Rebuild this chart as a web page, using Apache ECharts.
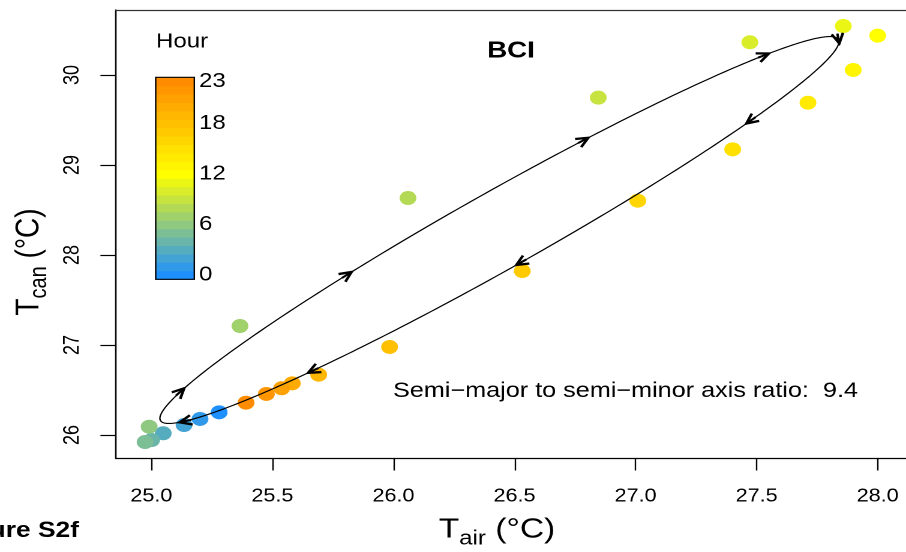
<!DOCTYPE html>
<html><head><meta charset="utf-8">
<script src="https://cdn.jsdelivr.net/npm/echarts@6/dist/echarts.min.js"></script>
<style>
html,body{margin:0;padding:0;overflow:hidden;background:#fff;width:906px;height:552px}
#c{width:755px;height:552px;transform:scaleX(1.2);transform-origin:0 0;}
</style>
</head><body><div id="c"></div>
<script>
// ---------- data ----------
const hours = [0,1,2,3,4,5,6,7,8,9,10,11,12,13,14,15,16,17,18,19,20,21,22,23];
const tair  = [25.280,25.201,25.135,25.049,25.001,24.974,24.991,25.366,26.060,26.846,27.472,27.858,
               28.000,27.899,27.712,27.401,27.009,26.532,25.984,25.691,25.582,25.538,25.475,25.391];
const tcan  = [26.252,26.178,26.111,26.019,25.944,25.922,26.092,27.211,28.633,29.748,30.363,30.544,
               30.437,30.056,29.692,29.174,28.603,27.822,26.978,26.670,26.574,26.519,26.456,26.359];
const xTicks = [25.0,25.5,26.0,26.5,27.0,27.5,28.0];
const yTicks = [26,27,28,29,30];
const colorbarTicks = [0,6,12,18,23];
const colorStops = [[0,[30,144,255]],[12,[255,255,0]],[23,[255,140,0]]];
// fitted hysteresis ellipse (data units)
const ellipseCenter = [26.4375, 28.2775];
const ellipseSemiMajor = 2.552;
const axisRatio = 9.4;
const ellipseAngleDeg = 57.17;
const arrowParamDeg = [150,107,66,29,-7.5,-52,-96,-133,-168];
const titleText = 'BCI';
const noteText = 'Semi\u2212major to semi\u2212minor axis ratio:  9.4';
const figLabel = 'Figure S2f';

// ---------- helpers ----------
const S = 1.2;                 // horizontal stretch of the reference picture
const X = px => px / S;        // picture x -> chart logical x
const FONT = 'Liberation Sans';

function hourColor(h){
  for (let k=0;k<colorStops.length-1;k++){
    const [h0,c0]=colorStops[k],[h1,c1]=colorStops[k+1];
    if (h>=h0 && h<=h1){
      const f=(h-h0)/(h1-h0);
      const c=c0.map((v,j)=>Math.round(v+(c1[j]-v)*f));
      return 'rgb('+c.join(',')+')';
    }
  }
  return 'rgb(255,140,0)';
}
const hourColors = hours.map(hourColor);

function ellipsePoint(tDeg){
  const t=tDeg*Math.PI/180, th=ellipseAngleDeg*Math.PI/180;
  const a=ellipseSemiMajor, b=a/axisRatio;
  const ca=a*Math.cos(t), sb=b*Math.sin(t);
  return [ellipseCenter[0]+ca*Math.cos(th)-sb*Math.sin(th),
          ellipseCenter[1]+ca*Math.sin(th)+sb*Math.cos(th)];
}

const ctx = document.createElement('canvas').getContext('2d');
function tw(txt,size,weight){ ctx.font=(weight||'normal')+' '+size+'px "'+FONT+'"'; return ctx.measureText(txt).width; }

function subTitle(main, sub, rest, cx, cy, rot){
  const big=28, small=20;
  const w1=tw(main,big), w2=tw(sub,small), w3=tw(rest,big);
  const x0=-(w1+w2+w3)/2;
  const st=(t,s)=>({text:t,fontSize:s,fontFamily:FONT,fill:'#000',align:'left',verticalAlign:'middle'});
  return {type:'group', x:cx, y:cy, rotation:rot||0, children:[
    {type:'text', x:x0, y:0, style:st(main,big)},
    {type:'text', x:x0+w1, y:9, style:st(sub,small)},
    {type:'text', x:x0+w1+w2, y:0, style:st(rest,big)}
  ]};
}

// colorbar legend
const cbLeft=X(155.7), cbRight=X(194.3), cbTop=77.3, cbBottom=279.3;
const bandH=(cbBottom-cbTop)/hours.length;
const graphics=[];
hours.forEach((h,i)=>{
  graphics.push({type:'rect', shape:{x:cbLeft, y:cbBottom-(i+1)*bandH, width:cbRight-cbLeft, height:bandH+0.4},
    style:{fill:hourColors[i]}, silent:true});
});
graphics.push({type:'rect', shape:{x:cbLeft,y:cbTop,width:cbRight-cbLeft,height:cbBottom-cbTop},
  style:{fill:null,stroke:'#000',lineWidth:1.2}});
colorbarTicks.forEach(v=>{
  graphics.push({type:'text', x:X(199), y:cbBottom-(v+0.5)*bandH,
    style:{text:String(v),fontSize:20,fontFamily:FONT,fill:'#000',align:'left',verticalAlign:'middle'}});
});
graphics.push({type:'text', x:X(156), y:42, style:{text:'Hour',fontSize:20,fontFamily:FONT,fill:'#000',align:'left',verticalAlign:'middle'}});
graphics.push({type:'text', x:X(511), y:51, style:{text:titleText,fontSize:23,fontWeight:'bold',fontFamily:FONT,fill:'#000',align:'center',verticalAlign:'middle'}});
graphics.push({type:'text', x:X(393), y:391, style:{text:noteText,fontSize:21,fontFamily:FONT,fill:'#000',align:'left',verticalAlign:'middle'}});
graphics.push({type:'text', x:X(79), y:531, style:{text:figLabel,fontSize:22,fontWeight:'bold',fontFamily:FONT,fill:'#000',align:'right',verticalAlign:'middle'}});
graphics.push(subTitle('T','air',' (\u00b0C)', X(497), 530, 0));
graphics.push(subTitle('T','can',' (\u00b0C)', X(29), 262, Math.PI/2));

const xMin=24.854, xMax=28.117, yMin=25.739, yMax=30.722;
const axisLine={show:true,lineStyle:{color:'#000',width:1.3}};
const lbl={color:'#000',fontSize:18,fontFamily:FONT};

const chart=echarts.init(document.getElementById('c'),null,{renderer:'canvas',devicePixelRatio:2});
chart.setOption({
  animation:false,
  backgroundColor:'#fff',
  textStyle:{fontFamily:FONT,color:'#000'},
  grid:{left:X(116),right:0,top:10,bottom:93.5,containLabel:false,outerBoundsMode:'none',show:false},
  xAxis:[{
    type:'value',min:xMin,max:xMax,position:'bottom',
    axisLine:axisLine,
    axisTick:{show:true,length:12,lineStyle:{color:'#000',width:1.2},customValues:xTicks},
    axisLabel:Object.assign({margin:29,customValues:xTicks,formatter:v=>Number(v).toFixed(1)},lbl),
    splitLine:{show:false}
  },{
    type:'value',min:xMin,max:xMax,position:'top',
    axisLine:{show:true,lineStyle:{color:'#333',width:1.2}},
    axisTick:{show:false},axisLabel:{show:false},splitLine:{show:false}
  }],
  yAxis:{
    type:'value',min:yMin,max:yMax,position:'left',
    axisLine:axisLine,
    axisTick:{show:true,length:13,lineStyle:{color:'#000',width:1.2},customValues:yTicks},
    axisLabel:Object.assign({margin:27,rotate:90,customValues:yTicks,formatter:v=>String(Math.round(v))},lbl),
    splitLine:{show:false}
  },
  visualMap:{type:'continuous',show:false,dimension:2,min:0,max:23,seriesIndex:0,inRange:{color:hourColors}},
  series:[{
    type:'scatter',
    data:hours.map((h,i)=>[tair[i],tcan[i],h]),
    symbol:'circle',symbolSize:14,
    itemStyle:{opacity:1},
    z:2
  },{
    type:'custom',
    data:[ellipseCenter],
    z:3,
    renderItem:(params,api)=>{
      const pts=[];
      for(let d=0;d<=360;d+=1) pts.push(api.coord(ellipsePoint(d)));
      const children=[{type:'polyline',shape:{points:pts},style:{stroke:'#000',lineWidth:1.15,fill:null}}];
      arrowParamDeg.forEach(td=>{
        const p=api.coord(ellipsePoint(td));
        const q=api.coord(ellipsePoint(td-1));
        let dx=q[0]-p[0],dy=q[1]-p[1];const len=Math.hypot(dx,dy)||1;dx/=len;dy/=len;
        const tip=[p[0]+dx*3,p[1]+dy*3];
        const L=11,ang=Math.PI/7;
        const side=s=>{const c=Math.cos(s*ang),sn=Math.sin(s*ang);
          return [tip[0]-L*(dx*c-dy*sn), tip[1]-L*(dx*sn+dy*c)];};
        children.push({type:'polyline',shape:{points:[tip,[tip[0]-dx*L*0.9,tip[1]-dy*L*0.9]]},
          style:{stroke:'#000',lineWidth:2,fill:null}});
        children.push({type:'polyline',shape:{points:[side(1),tip,side(-1)]},
          style:{stroke:'#000',lineWidth:2.3,fill:null,lineJoin:'miter'}});
      });
      return {type:'group',children};
    }
  }],
  graphic:graphics
});
</script>
</body></html>
